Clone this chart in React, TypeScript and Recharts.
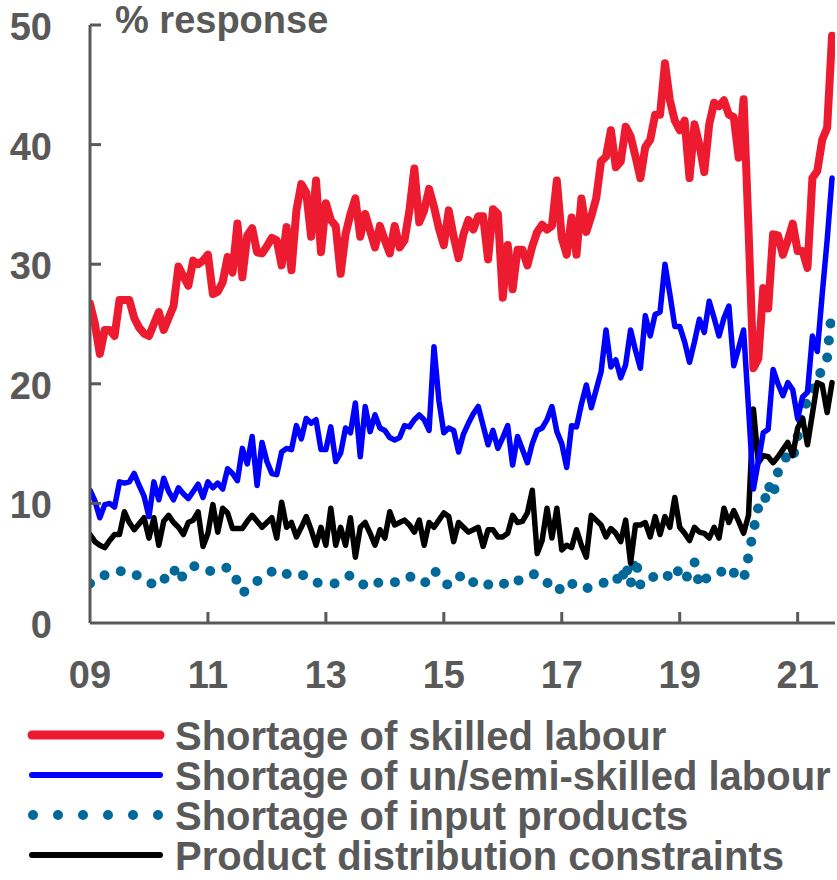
import React from 'react';
import { LineChart, Line, XAxis, YAxis, Label } from 'recharts';

// monthly survey responses, Jan 2009 - Aug 2021 (% response)
const skilled = [
  26.7, 25, 22.5, 24.5, 24.5, 24, 27, 27, 27, 25.5, 24.7, 24.2,
  24, 25, 26, 24.5, 25.5, 26.5, 29.8, 29, 28.2, 30.3, 30, 30.3,
  30.8, 27.5, 27.7, 28.5, 30.6, 29.3, 33.4, 28.9, 32.4, 33, 31, 30.9,
  31.5, 32.2, 32, 29.9, 33.1, 29.5, 34.5, 36.7, 36, 32.3, 37, 31,
  35.1, 33.7, 33.2, 29.2, 32.5, 34.2, 35.5, 32.3, 34.2, 32.8, 31.4, 33.2,
  32, 30.9, 33.2, 31.4, 32, 34.5, 38, 33.5, 34.5, 36.3, 34.8, 33,
  31.6, 34.5, 32.3, 30.5, 32.5, 33.7, 32.9, 34, 34, 30.4, 34.6, 34.2,
  27.2, 31.6, 27.9, 31.2, 31.2, 29.9, 31.5, 32.7, 33.3, 32.9, 33.2, 37,
  32.2, 30.8, 33.9, 30.8, 35.5, 32.7, 34, 35.5, 38.6, 39, 41.2, 38.1,
  38.6, 41.5, 40.7, 39, 37.2, 39.8, 40.4, 42.5, 42.5, 46.8, 43.7, 42,
  41.2, 42, 37.2, 41.7, 40, 37.7, 41.7, 43.5, 43.2, 43.7, 42.5, 42.3,
  38.9, 43.8, 33, 21.3, 22.1, 28, 26.3, 32.5, 32.4, 30.8, 32, 33.4,
  31.1, 31.1, 29.7, 37.2, 37.8, 40.4, 41.4, 49.1,
];

const semiSkilled = [
  11.1, 10.2, 8.8, 9.9, 10, 9.7, 11.8, 11.7, 11.8, 12.5, 11.5, 10.6,
  8.9, 11.8, 10.3, 12.1, 11, 10.3, 11.3, 10.8, 10.4, 11, 11.6, 10.5,
  11.8, 11.3, 11.7, 11.2, 12.9, 12.5, 11.9, 14.6, 13.3, 15.6, 11.5, 15.1,
  13.5, 12.5, 12.4, 14.3, 14.6, 14.5, 16.5, 15.4, 17.1, 16.7, 17, 14.5,
  14.5, 16.4, 13.5, 14.2, 16.3, 15.9, 18.4, 13.9, 18.1, 16, 17.4, 16.3,
  16.1, 15.5, 15.3, 15.5, 16.5, 16.4, 17, 17.4, 17, 16.1, 23.1, 18.6,
  15.9, 16.3, 16.1, 14.3, 15.8, 16.7, 17.5, 18.1, 16.5, 14.9, 16.1, 14.6,
  15.5, 16.5, 13.2, 15.6, 14.5, 13.4, 15, 16.1, 16.3, 17, 18.1, 16,
  15, 13, 16.5, 16.4, 18.3, 19.9, 18, 19.5, 21, 24.5, 21.4, 22,
  20.5, 21.6, 24.5, 22.8, 21.3, 25.7, 24, 25.8, 26, 30, 27.5, 24.8,
  24.8, 23.5, 21.8, 23.5, 25.4, 24.3, 26.9, 25.5, 24, 25.5, 26.5, 21.5,
  23, 24.5, 18, 11.2, 13.5, 15.9, 16.2, 21.2, 20, 19, 20.1, 19.5,
  17.1, 18.9, 19.3, 24, 22.7, 27.5, 32, 37.2,
];

const inputProducts = [
  3.3, 3.4, 3.7, 4, 4.2, 4.3, 4.3, 4.4, 4.3, 4.1, 3.9, 3.7,
  3.4, 3.2, 3.1, 3.6, 4.2, 4.6, 3.5, 4, 4.5, 4.8, 4.6, 4.4,
  4.3, 4.4, 4.6, 4.7, 4.6, 4.4, 3.4, 2.5, 2.8, 3.1, 3.5, 3.8,
  4.1, 4.3, 4.5, 4.4, 4.1, 3.9, 3.9, 4, 4, 3.7, 3.4, 3.3,
  3.3, 3.3, 3.3, 3.5, 3.8, 4, 3.7, 3.4, 3.1, 3.3, 3.5, 3.3,
  3.3, 3.4, 3.4, 3.7, 3.8, 3.9, 3.7, 3.5, 3.3, 3.8, 4.4, 4,
  3.5, 3.1, 3.5, 3.8, 4.1, 3.8, 3.4, 3.1, 3, 3.2, 3.4, 3.5,
  3.3, 3.2, 3.1, 3.5, 3.8, 4, 4.1, 4, 3.9, 3.4, 2.9, 2.6,
  3, 3.5, 3.3, 3, 2.8, 2.9, 3, 3.1, 3.2, 3.5, 3.8, 3.9,
  3.2, 4.9, 3.2, 5.4, 3.2, 3.8, 3.9, 3.8, 3.7, 3.6, 4.2, 4.7,
  4.1, 3.5, 4.3, 5.1, 3.1, 3.6, 3.9, 4, 4.1, 4.5, 4.7, 4.2,
  3.9, 3.6, 5.6, 7.7, 9.7, 9.6, 11.6, 10.6, 12.6, 13.4, 14.1, 13.7,
  15.6, 17.9, 18.5, 19.4, 20.3, 21.3, 22.2, 26.3,
];

const distribution = [
  7.4, 6.8, 6.5, 6.3, 6.9, 7.4, 7.4, 9.3, 8.4, 7.8, 8.3, 8.8,
  7.1, 8.8, 6.5, 8.5, 9, 8.4, 8, 7.4, 8.4, 8.6, 9.3, 6.4,
  7.5, 9.9, 7.6, 9.6, 9.2, 7.9, 7.9, 7.9, 8.5, 9, 8.5, 8,
  8.4, 8.8, 7.1, 10.1, 8, 8.4, 7.2, 8, 8.9, 7.8, 6.5, 8,
  6.5, 9.6, 6.5, 8, 6.5, 8.8, 5.5, 8, 8.4, 7.5, 6.5, 7.8,
  7.1, 9.3, 8.2, 8.4, 8.6, 8.2, 7.6, 8.6, 6.5, 8.4, 8, 8.6,
  9.2, 8.9, 6.8, 8.4, 8, 7.6, 7.8, 8, 6.4, 7.8, 7.8, 7.2,
  7.2, 7.5, 9, 8.4, 8.5, 9.2, 11.1, 5.8, 6.9, 9.6, 7.1, 9.6,
  6.1, 6.5, 6.3, 7.8, 6.5, 5.5, 9, 8.6, 8.2, 7.2, 7.9, 7.5,
  6.8, 8.6, 5, 8.2, 8.2, 8.4, 7.2, 8.9, 7.4, 8.9, 8, 10.5,
  8, 7.5, 6.9, 8, 7.6, 7.5, 7.1, 8, 7.1, 9.6, 8.4, 9.4,
  8.5, 7.5, 9, 17.9, 13.4, 14, 13.9, 13.4, 13.9, 14.5, 15.1, 14,
  16.3, 17.1, 14.9, 17.5, 20.1, 19.9, 17.6, 20.1,
];

const xTickMonths = [0, 24, 48, 72, 96, 120, 144];
const xTickLabels = ['09', '11', '13', '15', '17', '19', '21'];
const yTicks = [0, 10, 20, 30, 40, 50];

const GREY = '#595959';
const FONT = "'Liberation Sans', Arial, sans-serif";

const series = [
  { key: 'skilled', name: 'Shortage of skilled labour', color: '#ED1B2F', width: 8 },
  { key: 'semi', name: 'Shortage of un/semi-skilled labour', color: '#0000FF', width: 5.5 },
  { key: 'input', name: 'Shortage of input products', color: '#00699A', width: 10, dotted: true },
  { key: 'dist', name: 'Product distribution constraints', color: '#000000', width: 5.5 },
];

const data = skilled.map((v, i) => ({
  m: i,
  skilled: v,
  semi: semiSkilled[i],
  input: inputProducts[i],
  dist: distribution[i],
}));

const XTick = (props: any) => {
  const { x, y, payload } = props;
  const idx = xTickMonths.indexOf(payload.value);
  return (
    <g>
      {payload.value > 0 && (
        <line x1={x} x2={x} y1={y} y2={y - 11} stroke={GREY} strokeWidth={3} />
      )}
      <text x={x} y={y + 65} textAnchor="middle" fill={GREY} fontSize={38}
        fontWeight="bold" fontFamily={FONT}>
        {xTickLabels[idx]}
      </text>
    </g>
  );
};

const YTick = (props: any) => {
  const { x, y, payload } = props;
  return (
    <g>
      {payload.value > 0 && (
        <line x1={x} x2={x + 11} y1={y} y2={y} stroke={GREY} strokeWidth={3} />
      )}
      <text x={x - 38} y={y + 15} textAnchor="end" fill={GREY} fontSize={38}
        fontWeight="bold" fontFamily={FONT}>
        {payload.value}
      </text>
    </g>
  );
};

const LegendBox = () => (
  <svg width={837} height={180} style={{ position: 'absolute', left: 0, top: 700 }}>
    {series.map((s, i) => {
      const cy = 35 + i * 40;
      return (
        <g key={s.key}>
          {s.dotted ? (
            <line x1={33} x2={160} y1={cy} y2={cy} stroke={s.color} strokeWidth={10}
              strokeLinecap="round" strokeDasharray="0 25" />
          ) : (
            <line x1={32} x2={160} y1={cy} y2={cy} stroke={s.color}
              strokeWidth={i === 0 ? 9 : 6} strokeLinecap="round" />
          )}
          <text x={175} y={cy + 15} fill={GREY} fontSize={40} fontWeight="bold" fontFamily={FONT}>
            {s.name}
          </text>
        </g>
      );
    })}
  </svg>
);

const App = () => {
  const order = [series[2], series[3], series[1], series[0]];
  return (
    <div style={{ position: 'relative', width: 837, height: 880, background: '#fff' }}>
      <style>{'body{margin:0}'}</style>
      <LineChart width={837} height={880} data={data}
        margin={{ top: 25, right: 2, bottom: 197, left: 0 }}>
        <XAxis dataKey="m" type="number" domain={[0, 151.6]} ticks={xTickMonths}
          allowDataOverflow height={60} tickSize={0} tickMargin={0} tickLine={false}
          axisLine={{ stroke: GREY, strokeWidth: 3 }} tick={<XTick />} interval={0} />
        <YAxis type="number" domain={[0, 50]} ticks={yTicks} width={90}
          tickSize={0} tickMargin={0} tickLine={false}
          axisLine={{ stroke: GREY, strokeWidth: 3 }} tick={<YTick />} interval={0}>
          <Label content={() => (
            <text x={115} y={33} fill={GREY} fontSize={38} fontWeight="bold" fontFamily={FONT}>
              % response
            </text>
          )} />
        </YAxis>
        {order.map((s) => (
          <Line key={s.key} type="linear" dataKey={s.key} stroke={s.color} strokeWidth={s.width}
            dot={false} activeDot={false} isAnimationActive={false}
            strokeLinecap="round" strokeLinejoin="round"
            strokeDasharray={s.dotted ? '0 17' : undefined} />
        ))}
      </LineChart>
      <LegendBox />
    </div>
  );
};

export default App;
